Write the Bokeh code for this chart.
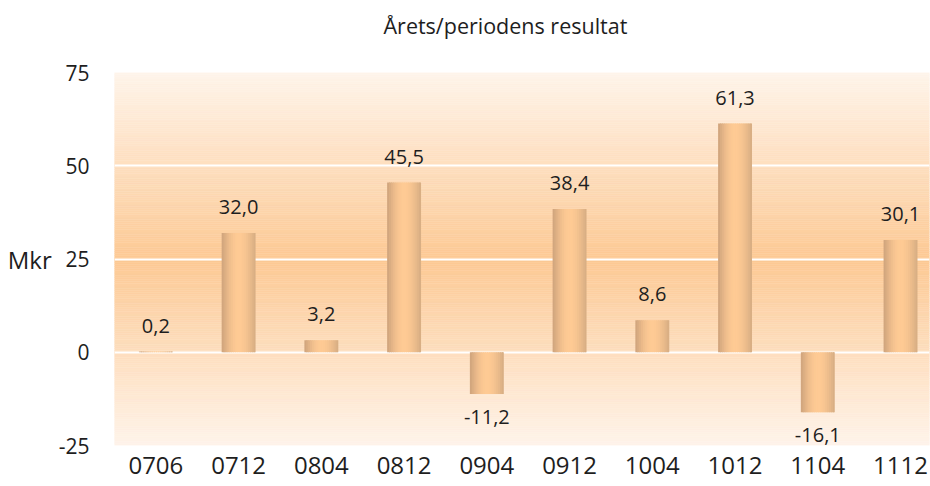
import numpy as np
from bokeh.plotting import figure
from bokeh.models import Range1d, ColumnDataSource, LabelSet, FixedTicker
from bokeh.core.properties import value
from bokeh.embed import file_html
from bokeh.resources import INLINE

# ---- data ----
periods = ["0706", "0712", "0804", "0812", "0904", "0912", "1004", "1012", "1104", "1112"]
results = [0.2, 32.0, 3.2, 45.5, -11.2, 38.4, 8.6, 61.3, -16.1, 30.1]
y_ticks = [-25, 0, 25, 50, 75]
title_text = "Årets/periodens resultat"
unit_label = "Mkr"

FONT = "Open Sans"
TXT = "#1e1e1e"

x_pos = np.arange(len(periods))
y_lo, y_hi = y_ticks[0], y_ticks[-1]
x_lo, x_hi = -0.5, 9.35

p = figure(width=930, height=486, output_backend="svg", toolbar_location=None,
           x_range=Range1d(x_lo, x_hi), y_range=Range1d(y_lo, y_hi),
           min_border_left=114, min_border_right=1, min_border_top=72, min_border_bottom=41,
           title=title_text + "\n ")
p.outline_line_color = None
p.grid.visible = False
p.background_fill_color = "white"
p.border_fill_color = "white"

# ---- background vertical gradient (light at edges, dark at middle) ----
def mix(c1, c2, t):
    c1 = np.array(c1, float); c2 = np.array(c2, float)
    c = c1 + (c2 - c1) * t
    return "#%02x%02x%02x" % tuple(int(round(v)) for v in c)

dark_bg = (253, 201, 148)
light_bg = (254, 244, 234)
edges = np.linspace(y_lo, y_hi, 201)
mid = (y_lo + y_hi) / 2
bg_cols = []
for a, b in zip(edges[:-1], edges[1:]):
    t = abs((a + b) / 2 - mid) / (mid - y_lo)
    bg_cols.append(mix(dark_bg, light_bg, t))
p.quad(left=x_lo - 1, right=x_hi + 1, bottom=edges[:-1], top=edges[1:],
       fill_color=bg_cols, line_color=bg_cols, line_width=0.5)

# ---- gridlines ----
p.hspan(y=[t for t in y_ticks if y_lo < t < y_hi], line_color="white", line_width=2)

# ---- bars with horizontal gradient ----
bar_w = 0.41
n_strips = 18
left_c = np.array((206, 163, 124))
peak_c = np.array((254, 202, 148))
right_c = np.array((214, 172, 130))
peak_pos = 0.5
strip_cols = []
for j in range(n_strips):
    s = (j + 0.5) / n_strips
    if s < peak_pos:
        t = np.sin(s / peak_pos * np.pi / 2)
        c = left_c + (peak_c - left_c) * t
    else:
        t = np.sin((1 - s) / (1 - peak_pos) * np.pi / 2)
        c = right_c + (peak_c - right_c) * t
    strip_cols.append("#%02x%02x%02x" % tuple(int(round(v)) for v in c))

sw = bar_w / n_strips
L, R, B, T, C = [], [], [], [], []
for xi, v in zip(x_pos, results):
    x0 = xi - bar_w / 2
    for j in range(n_strips):
        L.append(x0 + j * sw)
        R.append(x0 + (j + 1) * sw + (0.6 * sw if j < n_strips - 1 else 0))
        B.append(min(0, v))
        T.append(max(0, v))
        C.append(strip_cols[j])
p.quad(left=L, right=R, bottom=B, top=T, fill_color=C, line_color=None)

# ---- value labels ----
lab_src = ColumnDataSource(dict(
    x=x_pos, y=results,
    text=[f"{v:.1f}".replace(".", ",") for v in results],
    yoff=[19 if v >= 0 else -30 for v in results],
))
p.add_layout(LabelSet(x="x", y="y", text="text", source=lab_src, y_offset="yoff",
                      text_align="center", text_baseline="alphabetic",
                      text_font=value(FONT), text_font_size=value("20px"), text_color=TXT))

# ---- axes ----
p.xaxis.ticker = FixedTicker(ticks=list(x_pos))
p.xaxis.major_label_overrides = {int(i): s for i, s in zip(x_pos, periods)}
p.yaxis.ticker = FixedTicker(ticks=y_ticks)
p.yaxis.major_label_overrides = {t: str(t) for t in y_ticks}
for ax in (p.xaxis[0], p.yaxis[0]):
    ax.axis_line_color = None
    ax.major_tick_line_color = None
    ax.minor_tick_line_color = None
    ax.major_tick_out = 0
    ax.major_tick_in = 0
    ax.major_label_text_font = FONT
    ax.major_label_text_color = TXT
p.xaxis.major_label_text_font_size = "24px"
p.xaxis.major_label_standoff = 11
p.yaxis.major_label_text_font_size = "21px"
p.yaxis.major_label_standoff = 25
p.yaxis.axis_label = unit_label
p.yaxis.axis_label_orientation = "horizontal"
p.yaxis.axis_label_text_font = FONT
p.yaxis.axis_label_text_font_style = "normal"
p.yaxis.axis_label_text_font_size = "24px"
p.yaxis.axis_label_text_color = TXT
p.yaxis.axis_label_standoff = 4

p.title.text_font = FONT
p.title.text_font_size = "21.5px"
p.title.text_font_style = "normal"
p.title.text_color = TXT
p.title.align = "left"
p.title.offset = 269
p.title.vertical_align = "bottom"
p.title.standoff = 7

open("out.html", "w").write(file_html(p, INLINE))
